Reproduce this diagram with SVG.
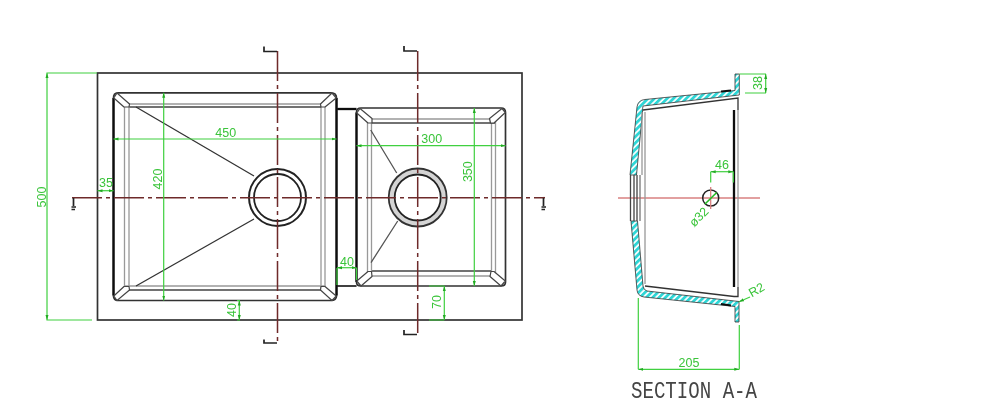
<svg xmlns="http://www.w3.org/2000/svg" width="1000" height="412" viewBox="0 0 1000 412">
<style>
.o{fill:none;stroke:#333;stroke-width:1.7}
.k{fill:none;stroke:#111;stroke-width:2.3}
.m{fill:none;stroke:#444;stroke-width:1.3}
.g{fill:none;stroke:#999;stroke-width:1.3}
.c{fill:#fff;stroke:#444;stroke-width:1.2;stroke-linejoin:round}
.d{fill:none;stroke:#3fd03f;stroke-width:1.2}
.a{fill:none;stroke:#3fd03f;stroke-width:1.2;marker-start:url(#ar);marker-end:url(#ar)}
.cl{fill:none;stroke:#6e2a2a;stroke-width:1.5;stroke-dasharray:30 4 4 4}
.r{fill:none;stroke:#d98080;stroke-width:1.3}
.t{font-family:"Liberation Sans",Arial,sans-serif;font-size:12.500px;fill:#3ac43a;text-anchor:middle;dominant-baseline:central}
.s{fill:url(#hatch);stroke:#333;stroke-width:.8;stroke-linejoin:round}
</style>
<defs>
<marker id="ar" markerWidth="6" markerHeight="5" refX="5" refY="2.500" orient="auto-start-reverse" markerUnits="userSpaceOnUse"><path d="M0 1L5 2.500L0 4z" fill="#22aa22"/></marker>
<pattern id="hatch" width="4.500" height="4.500" patternUnits="userSpaceOnUse" patternTransform="rotate(45)"><rect width="4.500" height="4.500" fill="#fff"/><rect width="2.800" height="4.500" fill="#2fd6d6"/></pattern>
<filter id="soft" x="0" y="0" width="100%" height="100%"><feGaussianBlur stdDeviation="0.350"/></filter>
</defs>
<g filter="url(#soft)">
<g id="plate"><rect class="o" x="97.500" y="73" width="424.500" height="247"/></g>
<g id="connector-sink"><path class="k" d="M336.500 109H356.500"/><path class="k" style="stroke-width:1.6" d="M337 286H356.500"/></g>
<g id="sink-left">
<path class="o" d="M118 92.800H331Q336.500 92.800 336.500 98V295.500Q336.500 300.500 331 300.500H118Q113.500 300.500 113.500 295.500V98Q113.500 92.800 118 92.800Z"/>
<path class="k" d="M113.500 98V295.500M336.500 98V295.500"/>
<path class="g" d="M124.500 104H325.500M124.500 286H325.500M124.500 104V286M321 104V290"/>
<path class="m" d="M129 107H321M129 290H321"/>
<path class="g" d="M129 107V286M325 104V286"/>
<path class="c" d="M117 93L113.800 98L124 107H129L129.500 104Z"/>
<path class="c" d="M332 93L336.200 98L325 107H321L320.500 104Z"/>
<path class="c" d="M117 300.500L113.800 296L124 286.500H129L129.500 290Z"/>
<path class="c" d="M332 300.500L336.200 296L325 286.500H321L320.500 290Z"/>
<path class="m" style="stroke:#333" d="M136 107L254 176M136 286L254 219"/>
<circle cx="277.500" cy="197.500" r="28.500" fill="#fff" stroke="#222" stroke-width="2"/>
<circle cx="277.500" cy="197.500" r="23.500" fill="#fff" stroke="#222" stroke-width="1.800"/>
</g>
<g id="sink-right">
<path class="o" d="M361 108H501Q505.500 108 505.500 112.500V282Q505.500 286 501 286H361Q356.500 286 356.500 282V112.500Q356.500 108 361 108Z"/>
<path class="k" d="M356.500 112.500V282"/>
<path class="g" d="M367.500 119H491.500M367.500 276H495M367.500 119V276M491.500 119V276"/>
<path class="m" d="M371 123H495M371 271H491"/>
<path class="g" d="M371.500 123V271M495.500 119V276"/>
<path class="c" d="M360 108.500L356.800 113L368 123H372L372 118.500Z"/>
<path class="c" d="M502 108.500L505.300 112.500L494 123H490.500L489.500 118.500Z"/>
<path class="c" d="M361 286L356.800 281L368 271.500H371.500L372 276.500Z"/>
<path class="c" d="M501 286L505.300 281L494 271.500H491L490 276.500Z"/>
<path class="m" style="stroke:#555" d="M370.700 130L396.700 173M371 262.700L397.700 221"/>
<circle cx="417.700" cy="197.500" r="26" fill="#fff" stroke="#d4d4d4" stroke-width="5"/>
<circle cx="417.700" cy="197.500" r="29" fill="none" stroke="#333" stroke-width="1.800"/>
<circle cx="417.700" cy="197.500" r="23" fill="none" stroke="#222" stroke-width="1.800"/>
</g>
<g id="section-lines">
<path class="cl" d="M72 197.700H545"/>
<path class="cl" d="M277.500 51V344"/>
<path class="cl" d="M417.700 51V335"/>
<path class="o" style="stroke:#222" d="M264 46.500V51.500H277M264 339.500V343H277M404 46V51H417M404 330V334.500H417"/>
<path class="o" style="stroke:#222" d="M73.500 198V206M71.500 207H76M71.500 209.500H75M543.500 198V206M541.500 207H546M541.500 209.500H545"/>
</g>
<g id="section">
<path class="r" d="M618 198H760"/>
<path class="s" d="M735 74H739.300V95L643 106Q642.500 108 642.500 112L636.500 175H630L637 107Q638 100 645 99.500L735 90.500Z"/>
<path class="s" d="M631 221H637.500L643 286Q643.500 290 647 291L739 301.500V322H735V306.500L644 297Q637.500 296 637 290Z"/>
<path class="k" style="stroke-width:1.800" d="M721 91.500L731 90.500M721 304L731 305.500"/>
<path class="m" style="stroke:#333" d="M643 110L738 98V110M645 286L734 296.500H738V287"/>
<path class="k" d="M734 110V287"/>
<path class="g" d="M738 110V287M642 112V175M645 112V284"/>
<path class="m" d="M630.500 175V221M634 175V221M637 175V221"/>
<path class="g" style="stroke:#777" d="M640 175V221"/>
<circle cx="710.700" cy="198" r="8" fill="none" stroke="#222" stroke-width="1.500"/>
<path class="r" d="M710.700 187V209"/>
<path d="M705 204L716.700 192.500" fill="none" stroke="#22bb22" stroke-width="1.600"/>
</g>
<g id="dimensions">
<path class="d" d="M97 73H47V320H92"/>
<path class="a" d="M47 73V320" style="stroke:none"/>
<text class="t" transform="translate(41.500 197) rotate(-90)">500</text>
<path class="a" d="M97.500 190.700H113.500"/>
<text class="t" x="106" y="183">35</text>
<path class="a" d="M113.500 139H336.500"/>
<text class="t" x="225.700" y="132.700">450</text>
<path class="a" d="M163.700 92.800V300.500"/>
<text class="t" transform="translate(158 179) rotate(-90)">420</text>
<path class="d" d="M237 300.500H240M237 320H240"/>
<path class="a" d="M239.300 300.500V320"/>
<text class="t" transform="translate(232 310) rotate(-90)">40</text>
<path class="d" d="M337 268V285M356.500 268V280"/>
<path class="a" d="M337 267.700H356.500"/>
<text class="t" x="347" y="261.700">40</text>
<path class="a" d="M356.500 145.700H505.500"/>
<text class="t" x="431.700" y="139">300</text>
<path class="a" d="M474.300 108V286"/>
<text class="t" transform="translate(468 171.700) rotate(-90)">350</text>
<path class="d" d="M429 286H444.300M429 320H444.300"/>
<path class="a" d="M444.300 286V320"/>
<text class="t" transform="translate(437 302) rotate(-90)">70</text>
<path class="d" d="M739.300 74H766M745 93H766"/>
<path class="a" d="M765.700 74V93"/>
<text class="t" transform="translate(758 83) rotate(-90)">38</text>
<path class="d" d="M710.700 182.600V171.700M733.300 182.600V171.700"/>
<path class="a" d="M710.700 171.700H733.300"/>
<text class="t" x="722" y="165">46</text>
<text class="t" transform="translate(699 217) rotate(-45)">ø32</text>
<path class="d" d="M638.300 298V369.300M739.300 325V369.300"/>
<path class="a" d="M638.300 369.300H739.300"/>
<text class="t" x="689" y="363">205</text>
<path class="d" d="M739 301.700L750 297" style="marker-start:url(#ar)"/>
<text class="t" transform="translate(756.700 290) rotate(-30)">R2</text>
</g>
<g id="title"><text x="631" y="398" font-family="'Liberation Mono','DejaVu Sans Mono',monospace" font-size="23" fill="#444" textLength="126" lengthAdjust="spacingAndGlyphs">SECTION A-A</text></g>
</g>
</svg>
